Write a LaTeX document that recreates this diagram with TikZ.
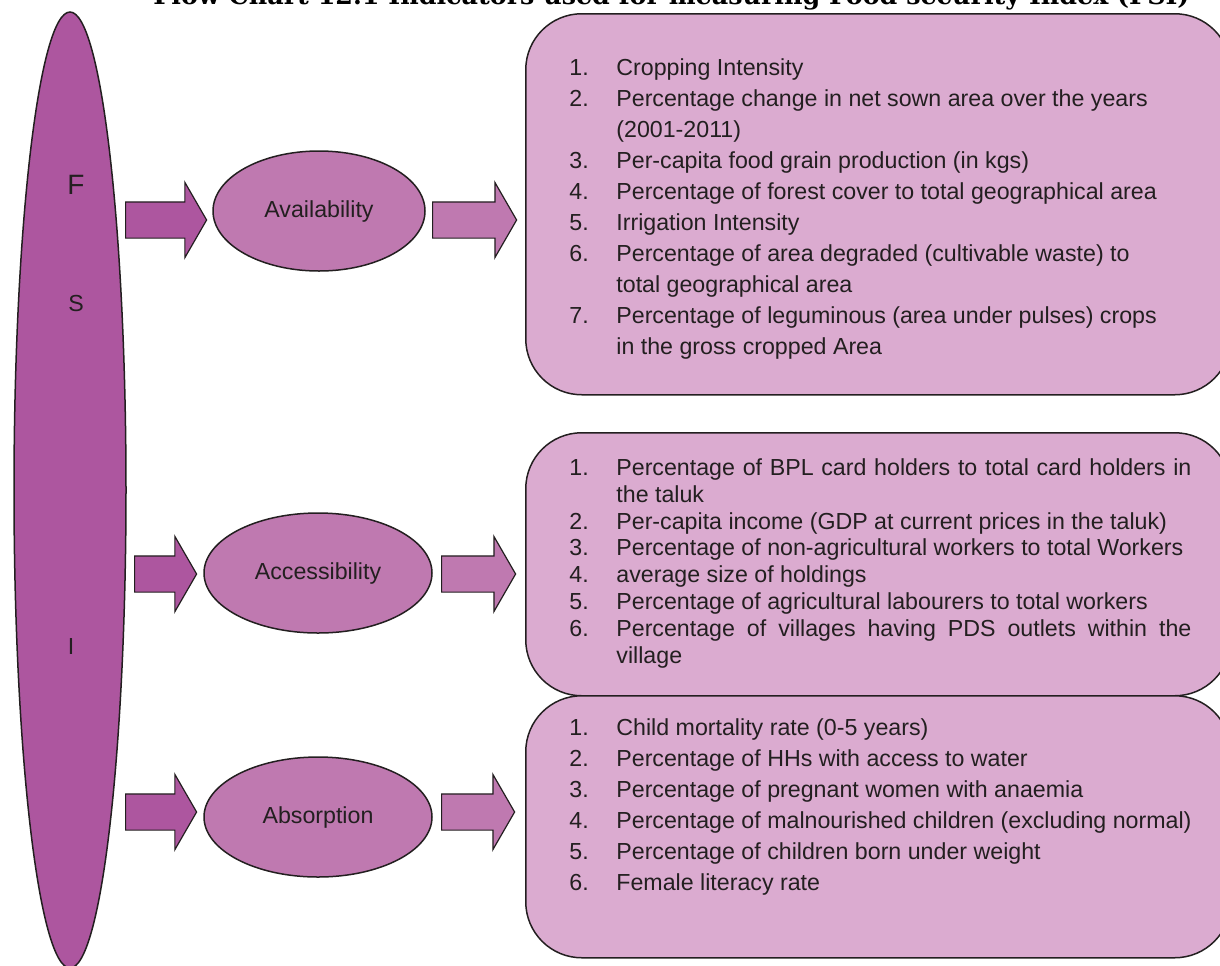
\documentclass[tikz,border=0pt]{standalone}
\usepackage{graphicx}
\usepackage{fontspec}
\setmainfont{Liberation Sans}
\newfontfamily\titlefont{DejaVu Serif}
\usetikzlibrary{shapes.geometric,shapes.arrows}
\definecolor{fsiC}{RGB}{173,86,159}
\definecolor{midC}{RGB}{191,121,176}
\definecolor{boxC}{RGB}{219,171,208}
\definecolor{edgeC}{RGB}{35,31,32}
\begin{document}
\begin{tikzpicture}[x=0.5pt,y=-0.5pt,
  listbox/.style={draw=edgeC,line width=0.75pt,fill=boxC,rounded corners=28pt,inner sep=0pt,anchor=north west},
  listtext/.style={anchor=north west,inner sep=0pt,align=left,text=edgeC},
  midell/.style={ellipse,draw=edgeC,line width=0.75pt,fill=midC,inner sep=0pt,minimum height=60pt,text=edgeC,font=\fontsize{11.6}{14}\selectfont},
  blockarr/.style={single arrow,draw=edgeC,line width=0.6pt,inner xsep=0pt,inner ysep=8.75pt,
     single arrow head extend=9.75pt,single arrow tip angle=120,anchor=tail},
  letter/.style={inner sep=0pt,text=edgeC}
]
\useasboundingbox (0,0) rectangle (1220,965);
\clip (0,0) rectangle (1220,965);

% title (cut at the top edge as in the reference)
\node[anchor=base west,inner sep=0pt] (title) at (153,4)
  {\resizebox{518pt}{!}{\titlefont\bfseries Flow Chart 12.1 Indicators used for measuring Food security Index (FSI)}};

% right-hand list boxes
\node[listbox,minimum width=352.5pt,minimum height=190.5pt] (box1) at (525,13) {};
\node[listbox,minimum width=352.5pt,minimum height=131.5pt] (box2) at (525,432) {};
\node[listbox,minimum width=352.5pt,minimum height=131pt] (box3) at (525,695) {};

% big FSI ellipse
\node[ellipse,draw=edgeC,line width=0.75pt,fill=fsiC,inner sep=0pt,minimum width=56pt,minimum height=478pt] (fsi) at (70,490) {};
\node[letter,font=\fontsize{14}{16}\selectfont] (lf) at (76,185) {F};
\node[letter,font=\fontsize{11.6}{14}\selectfont] (ls) at (76,304) {S};
\node[letter,font=\fontsize{11.6}{14}\selectfont] (li) at (71,647) {I};

% middle ellipses
\node[midell,minimum width=106pt] (avail) at (319,211) {Availability};
\node[midell,minimum width=114pt] (access) at (318,573) {Accessibility};
\node[midell,minimum width=114pt] (absorb) at (318,817) {Absorption};

% block arrows
\node[blockarr,fill=fsiC,minimum height=40.5pt] (a1) at (125,220) {};
\node[blockarr,fill=midC,minimum height=42pt] (a2) at (432,220) {};
\node[blockarr,fill=fsiC,minimum height=31pt] (a3) at (134,574) {};
\node[blockarr,fill=midC,minimum height=37pt] (a4) at (441,574) {};
\node[blockarr,fill=fsiC,minimum height=35.5pt] (a5) at (125,812) {};
\node[blockarr,fill=midC,minimum height=36.5pt] (a6) at (441,812) {};

% list texts
\node[listtext,font=\fontsize{11.6}{15.5}\selectfont] (t1) at (569,57) {%
\rule{0pt}{9pt}\makebox[23.5pt][l]{1.}Cropping Intensity\\
\makebox[23.5pt][l]{2.}Percentage change in net sown area over the years\\
\hspace*{23.5pt}(2001-2011)\\
\makebox[23.5pt][l]{3.}Per-capita food grain production (in kgs)\\
\makebox[23.5pt][l]{4.}Percentage of forest cover to total geographical area\\
\makebox[23.5pt][l]{5.}Irrigation Intensity\\
\makebox[23.5pt][l]{6.}Percentage of area degraded (cultivable waste) to\\
\hspace*{23.5pt}total geographical area\\
\makebox[23.5pt][l]{7.}Percentage of leguminous (area under pulses) crops\\
\hspace*{23.5pt}in the gross cropped Area};

\node[listtext,font=\fontsize{11.6}{13.43}\selectfont] (t2) at (569,457) {%
\rule{0pt}{9pt}\makebox[23.5pt][l]{1.}\makebox[287.5pt][s]{Percentage of BPL card holders to total card holders in}\\
\hspace*{23.5pt}the taluk\\
\makebox[23.5pt][l]{2.}Per-capita income (GDP at current prices in the taluk)\\
\makebox[23.5pt][l]{3.}Percentage of non-agricultural workers to total Workers\\
\makebox[23.5pt][l]{4.}average size of holdings\\
\makebox[23.5pt][l]{5.}Percentage of agricultural labourers to total workers\\
\makebox[23.5pt][l]{6.}\makebox[287.5pt][s]{Percentage of villages having PDS outlets within the}\\
\hspace*{23.5pt}village};

\node[listtext,font=\fontsize{11.6}{15.5}\selectfont] (t3) at (569,717) {%
\rule{0pt}{9pt}\makebox[23.5pt][l]{1.}Child mortality rate (0-5 years)\\
\makebox[23.5pt][l]{2.}Percentage of HHs with access to water\\
\makebox[23.5pt][l]{3.}Percentage of pregnant women with anaemia\\
\makebox[23.5pt][l]{4.}Percentage of malnourished children (excluding normal)\\
\makebox[23.5pt][l]{5.}Percentage of children born under weight\\
\makebox[23.5pt][l]{6.}Female literacy rate};
\end{tikzpicture}
\end{document}
